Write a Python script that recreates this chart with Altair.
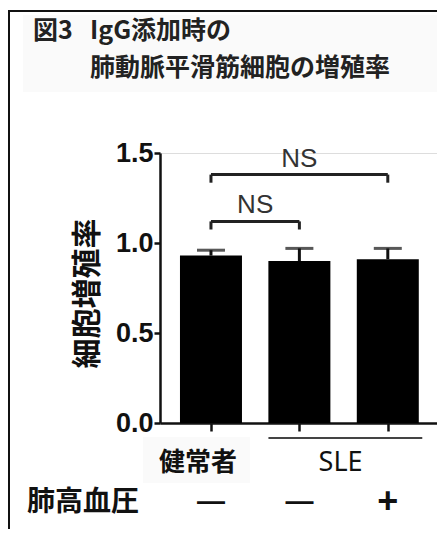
import altair as alt
import pandas as pd

# ---- data ----
idx = [0, 1, 2]
groups = ["健常者", "SLE", "SLE"]
pah = ["—", "—", "+"]
values = [0.93, 0.90, 0.91]
err_top = [0.96, 0.97, 0.97]
y_ticks = [0.0, 0.5, 1.0, 1.5]

# significance brackets: (start idx, end idx, bracket level, tick bottom, label)
br_start = [0, 0]
br_end = [2, 1]
br_level = [1.38, 1.12]
br_low = [1.335, 1.075]
br_label = ["NS", "NS"]

fig_no = "図3"
title_lines = "IgG添加時の\n肺動脈平滑筋細胞の増殖率"
y_title = "細胞増殖率"
row_label = "肺高血圧"

W, H = 277, 270
PAD_L, PAD_T = 152, 145

bars = pd.DataFrame({"i": idx, "v": values, "e": err_top, "pah": pah})
br = pd.DataFrame({"s": br_start, "e": br_end, "lv": br_level, "lo": br_low, "lab": br_label})
br["mid"] = (br["s"] + br["e"]) / 2

xs = alt.Scale(domain=[-0.52, 2.5], nice=False, zero=False)
ys = alt.Scale(domain=[0, 1.5], nice=False)

JP = "Noto Sans CJK JP"
AR = "Liberation Sans"

base = alt.Chart(bars)

bar = base.mark_bar(size=62, color="#000000").encode(
    x=alt.X("i:Q", scale=xs, axis=alt.Axis(values=idx, labels=False, title=None, tickSize=8,
                                            tickWidth=2.5, tickColor="#111", domainColor="#111",
                                            domainWidth=2.5, grid=False)),
    y=alt.Y("v:Q", scale=ys, axis=alt.Axis(values=y_ticks, format=".1f", title=y_title,
                                            labelFont=AR, labelFontSize=27, labelFontWeight="bold",
                                            labelColor="#111", labelPadding=1, tickSize=6,
                                            tickWidth=2.5, tickColor="#111", domainColor="#111",
                                            domainWidth=2.5, grid=False, titleFont=JP,
                                            titleFontSize=30, titleFontWeight="bold",
                                            titleColor="#111", titleAngle=270, titleX=-73,
                                            titleY=H / 2 + 5, titleAlign="center",
                                            titleBaseline="middle")),
)

err_line = base.mark_rule(color="#111", strokeWidth=3).encode(
    x="i:Q", y="v:Q", y2="e:Q")
err_cap = base.mark_tick(color="#111", size=28, thickness=3, orient="horizontal").encode(
    x="i:Q", y="e:Q")

bchart = alt.Chart(br)
b_h = bchart.mark_rule(color="#222", strokeWidth=3).encode(
    x=alt.X("s:Q", scale=xs), x2="e:Q", y=alt.Y("lv:Q", scale=ys))
b_l = bchart.mark_rule(color="#222", strokeWidth=3).encode(
    x=alt.X("s:Q", scale=xs), y=alt.Y("lv:Q", scale=ys), y2="lo:Q")
b_r = bchart.mark_rule(color="#222", strokeWidth=3).encode(
    x=alt.X("e:Q", scale=xs), y=alt.Y("lv:Q", scale=ys), y2="lo:Q")
b_t = bchart.mark_text(font=AR, fontSize=26, color="#333", baseline="bottom", dy=-3).encode(
    x=alt.X("mid:Q", scale=xs), y=alt.Y("lv:Q", scale=ys), text="lab:N")

# group labels below axis
grp = pd.DataFrame({"g": ["健常者", "SLE"], "x": [0.0, 1.5]})
grp_bg = alt.Chart(pd.DataFrame({"a": [0]})).mark_rect(color="#fafafa").encode(
    x=alt.value(-17), x2=alt.value(90), y=alt.value(284), y2=alt.value(330))
g_txt0 = alt.Chart(grp.iloc[[0]]).mark_text(font=JP, fontSize=26, fontWeight="bold",
                                            color="#111", dx=-13).encode(
    x=alt.X("x:Q", scale=xs), y=alt.value(310), text="g:N")
g_txt1 = alt.Chart(grp.iloc[[1]]).mark_text(font="Noto Sans", fontSize=27,
                                            color="#111", dx=-3).encode(
    x=alt.X("x:Q", scale=xs), y=alt.value(310), text="g:N")
sle_line = alt.Chart(pd.DataFrame({"a": [1 - 0.35], "b": [2 + 0.39]})).mark_rule(
    color="#444", strokeWidth=2).encode(
    x=alt.X("a:Q", scale=xs), x2="b:Q", y=alt.value(285))

pah_dash = alt.Chart(bars.iloc[[0, 1]]).mark_text(
    font=AR, fontSize=28, fontWeight="bold", color="#111").encode(
    x="i:Q", y=alt.value(349), text="pah:N")
pah_plus = alt.Chart(bars.iloc[[2]]).mark_text(
    font=AR, fontSize=36, fontWeight="bold", color="#111").encode(
    x="i:Q", y=alt.value(349), text="pah:N")
row_txt = alt.Chart(pd.DataFrame({"t": [row_label]})).mark_text(
    font=JP, fontSize=28, fontWeight="bold", color="#111", align="left").encode(
    x=alt.value(-133), y=alt.value(350), text="t:N")

# title
title_bg = alt.Chart(pd.DataFrame({"a": [0]})).mark_rect(color="#fafafa").encode(
    x=alt.value(-137), x2=alt.value(280), y=alt.value(-138), y2=alt.value(-61))
t0 = alt.Chart(pd.DataFrame({"t": [fig_no]})).mark_text(
    font=JP, fontSize=25, fontWeight="bold", color="#222", align="left",
    baseline="top").encode(
    x=alt.value(-127), y=alt.value(-134), text="t:N")
t12 = alt.Chart(pd.DataFrame({"t": [title_lines]})).mark_text(
    font=JP, fontSize=25, fontWeight="bold", color="#222", align="left",
    baseline="top", lineBreak="\n", lineHeight=37).encode(
    x=alt.value(-70), y=alt.value(-134), text="t:N")

# frame (top and left)
frame_top = alt.Chart(pd.DataFrame({"a": [0]})).mark_rule(color="#111", strokeWidth=2).encode(
    x=alt.value(-152), x2=alt.value(W + 10), y=alt.value(-142))
frame_left = alt.Chart(pd.DataFrame({"a": [0]})).mark_rule(color="#111", strokeWidth=2).encode(
    x=alt.value(-151), y=alt.value(-142), y2=alt.value(400))

chart = alt.layer(
    title_bg, grp_bg, frame_top, frame_left,
    bar, err_line, err_cap, b_h, b_l, b_r, b_t,
    g_txt0, g_txt1, sle_line, pah_dash, pah_plus, row_txt, t0, t12,
).properties(
    width=W, height=H,
    autosize=alt.AutoSizeParams(type="none"),
    padding={"left": PAD_L, "top": PAD_T, "right": 0, "bottom": 106},
).configure_view(stroke=None).configure(background="white")

chart.save("out.html", embed_options={"renderer": "svg", "actions": False})
